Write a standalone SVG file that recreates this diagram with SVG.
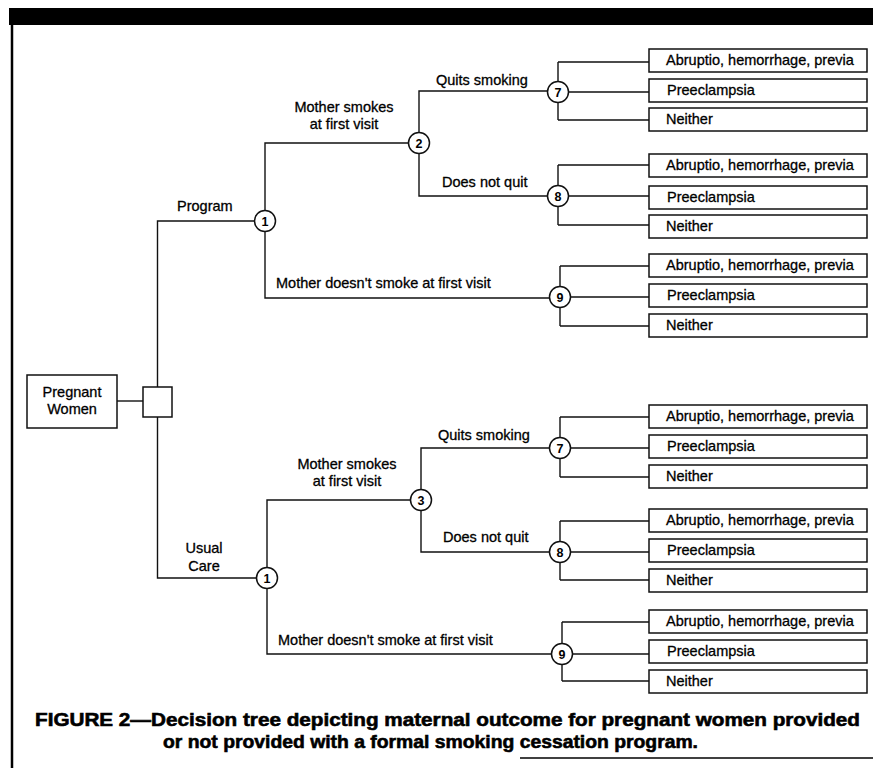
<svg xmlns="http://www.w3.org/2000/svg" width="873" height="768" viewBox="0 0 873 768">
<style>
  .ln{fill:none;stroke:#111;stroke-width:1.4}
  .bx{fill:#fff;stroke:#111;stroke-width:1.5}
  .ch{fill:#fff;stroke:#111;stroke-width:1.5}
  .t{font-family:"Liberation Sans",Arial,sans-serif;font-size:14.5px;fill:#000;stroke:#000;stroke-width:0.3}
  .n{font-family:"Liberation Sans",Arial,sans-serif;font-size:12.5px;font-weight:bold;fill:#000;text-anchor:middle}
  .c{text-anchor:middle}
  .cap{font-family:"Liberation Sans",Arial,sans-serif;font-size:18.5px;font-weight:bold;fill:#000;stroke:#000;stroke-width:0.6}
</style>
<rect x="0" y="0" width="873" height="768" fill="#fff"/>
<g id="frame">
  <rect x="9" y="8" width="864" height="17" fill="#000"/>
  <line x1="12" y1="24" x2="12" y2="768" stroke="#000" stroke-width="2.5"/>
  <line x1="520" y1="758" x2="873" y2="758" stroke="#000" stroke-width="1.5"/>
</g>
<g id="connectors" class="ln">
  <path d="M117,401H143"/>
  <path d="M157.5,387V221H265"/>
  <path d="M157.5,417V578H267"/>
  <path d="M265,221V143H419"/>
  <path d="M265,221V298H560"/>
  <path d="M419,143V91H558"/>
  <path d="M419,143V196H558"/>
  <path d="M558,62V120M558,62H649M558,92H649M558,120H649"/>
  <path d="M558,165V225M558,165H649M558,196H649M558,225H649"/>
  <path d="M560,266V326M560,266H649M560,297H649M560,326H649"/>
  <path d="M267,578V500H421"/>
  <path d="M267,578V654H562"/>
  <path d="M421,500V448H560"/>
  <path d="M421,500V552H560"/>
  <path d="M560,417V477M560,417H649M560,448H649M560,477H649"/>
  <path d="M560,521V580M560,521H649M560,552H649M560,580H649"/>
  <path d="M562,622V681M562,622H649M562,654H649M562,681H649"/>
</g>
<g id="labels" class="t">
  <text x="177" y="211">Program</text>
  <text class="c" x="344" y="112">Mother smokes</text>
  <text class="c" x="344" y="129">at first visit</text>
  <text x="436" y="85">Quits smoking</text>
  <text x="442" y="187">Does not quit</text>
  <text x="276" y="288">Mother doesn't smoke at first visit</text>
  <text class="c" x="204" y="553">Usual</text>
  <text class="c" x="204" y="571">Care</text>
  <text class="c" x="347" y="469">Mother smokes</text>
  <text class="c" x="347" y="486">at first visit</text>
  <text x="438" y="440">Quits smoking</text>
  <text x="443" y="542">Does not quit</text>
  <text x="278" y="645">Mother doesn't smoke at first visit</text>
</g>
<g id="pregnant-women">
  <rect class="bx" x="27" y="375" width="90" height="53"/>
  <text class="t c" x="72" y="397">Pregnant</text>
  <text class="t c" x="72" y="414">Women</text>
</g>
<g id="decision">
  <rect class="bx" x="143" y="387" width="29" height="30"/>
</g>
<g id="chance-1-program"><circle class="ch" cx="265" cy="221" r="10.5"/><text class="n" x="265" y="225.5">1</text></g>
<g id="chance-2"><circle class="ch" cx="419" cy="143" r="10.5"/><text class="n" x="419" y="147.5">2</text></g>
<g id="chance-7-program"><circle class="ch" cx="558" cy="92" r="10.5"/><text class="n" x="558" y="96.5">7</text></g>
<g id="chance-8-program"><circle class="ch" cx="558" cy="196" r="10.5"/><text class="n" x="558" y="200.5">8</text></g>
<g id="chance-9-program"><circle class="ch" cx="560" cy="297" r="10.5"/><text class="n" x="560" y="301.5">9</text></g>
<g id="chance-1-usual"><circle class="ch" cx="267" cy="578" r="10.5"/><text class="n" x="267" y="582.5">1</text></g>
<g id="chance-3"><circle class="ch" cx="421" cy="500" r="10.5"/><text class="n" x="421" y="504.5">3</text></g>
<g id="chance-7-usual"><circle class="ch" cx="560" cy="448" r="10.5"/><text class="n" x="560" y="452.5">7</text></g>
<g id="chance-8-usual"><circle class="ch" cx="560" cy="552" r="10.5"/><text class="n" x="560" y="556.5">8</text></g>
<g id="chance-9-usual"><circle class="ch" cx="562" cy="654" r="10.5"/><text class="n" x="562" y="658.5">9</text></g>
<g id="p7-abruptio"><rect class="bx" x="649" y="49" width="218" height="23"/><text class="t" x="666" y="65">Abruptio, hemorrhage, previa</text></g>
<g id="p7-preeclampsia"><rect class="bx" x="649" y="79" width="218" height="23"/><text class="t" x="667" y="95">Preeclampsia</text></g>
<g id="p7-neither"><rect class="bx" x="649" y="108" width="218" height="23"/><text class="t" x="666" y="124">Neither</text></g>
<g id="p8-abruptio"><rect class="bx" x="649" y="154" width="218" height="23"/><text class="t" x="666" y="170">Abruptio, hemorrhage, previa</text></g>
<g id="p8-preeclampsia"><rect class="bx" x="649" y="186" width="218" height="23"/><text class="t" x="667" y="202">Preeclampsia</text></g>
<g id="p8-neither"><rect class="bx" x="649" y="215" width="218" height="23"/><text class="t" x="666" y="231">Neither</text></g>
<g id="p9-abruptio"><rect class="bx" x="649" y="254" width="218" height="23"/><text class="t" x="666" y="270">Abruptio, hemorrhage, previa</text></g>
<g id="p9-preeclampsia"><rect class="bx" x="649" y="284" width="218" height="23"/><text class="t" x="667" y="300">Preeclampsia</text></g>
<g id="p9-neither"><rect class="bx" x="649" y="314" width="218" height="23"/><text class="t" x="666" y="330">Neither</text></g>
<g id="u7-abruptio"><rect class="bx" x="649" y="405" width="218" height="23"/><text class="t" x="666" y="421">Abruptio, hemorrhage, previa</text></g>
<g id="u7-preeclampsia"><rect class="bx" x="649" y="435" width="218" height="23"/><text class="t" x="667" y="451">Preeclampsia</text></g>
<g id="u7-neither"><rect class="bx" x="649" y="465" width="218" height="23"/><text class="t" x="666" y="481">Neither</text></g>
<g id="u8-abruptio"><rect class="bx" x="649" y="509" width="218" height="23"/><text class="t" x="666" y="525">Abruptio, hemorrhage, previa</text></g>
<g id="u8-preeclampsia"><rect class="bx" x="649" y="539" width="218" height="23"/><text class="t" x="667" y="555">Preeclampsia</text></g>
<g id="u8-neither"><rect class="bx" x="649" y="569" width="218" height="23"/><text class="t" x="666" y="585">Neither</text></g>
<g id="u9-abruptio"><rect class="bx" x="649" y="610" width="218" height="23"/><text class="t" x="666" y="626">Abruptio, hemorrhage, previa</text></g>
<g id="u9-preeclampsia"><rect class="bx" x="649" y="640" width="218" height="23"/><text class="t" x="667" y="656">Preeclampsia</text></g>
<g id="u9-neither"><rect class="bx" x="649" y="670" width="218" height="23"/><text class="t" x="666" y="686">Neither</text></g>
<g id="caption" class="cap">
  <text x="35" y="726" textLength="825" lengthAdjust="spacingAndGlyphs">FIGURE 2—Decision tree depicting maternal outcome for pregnant women provided</text>
  <text x="163" y="748" textLength="535" lengthAdjust="spacingAndGlyphs">or not provided with a formal smoking cessation program.</text>
</g>
</svg>
